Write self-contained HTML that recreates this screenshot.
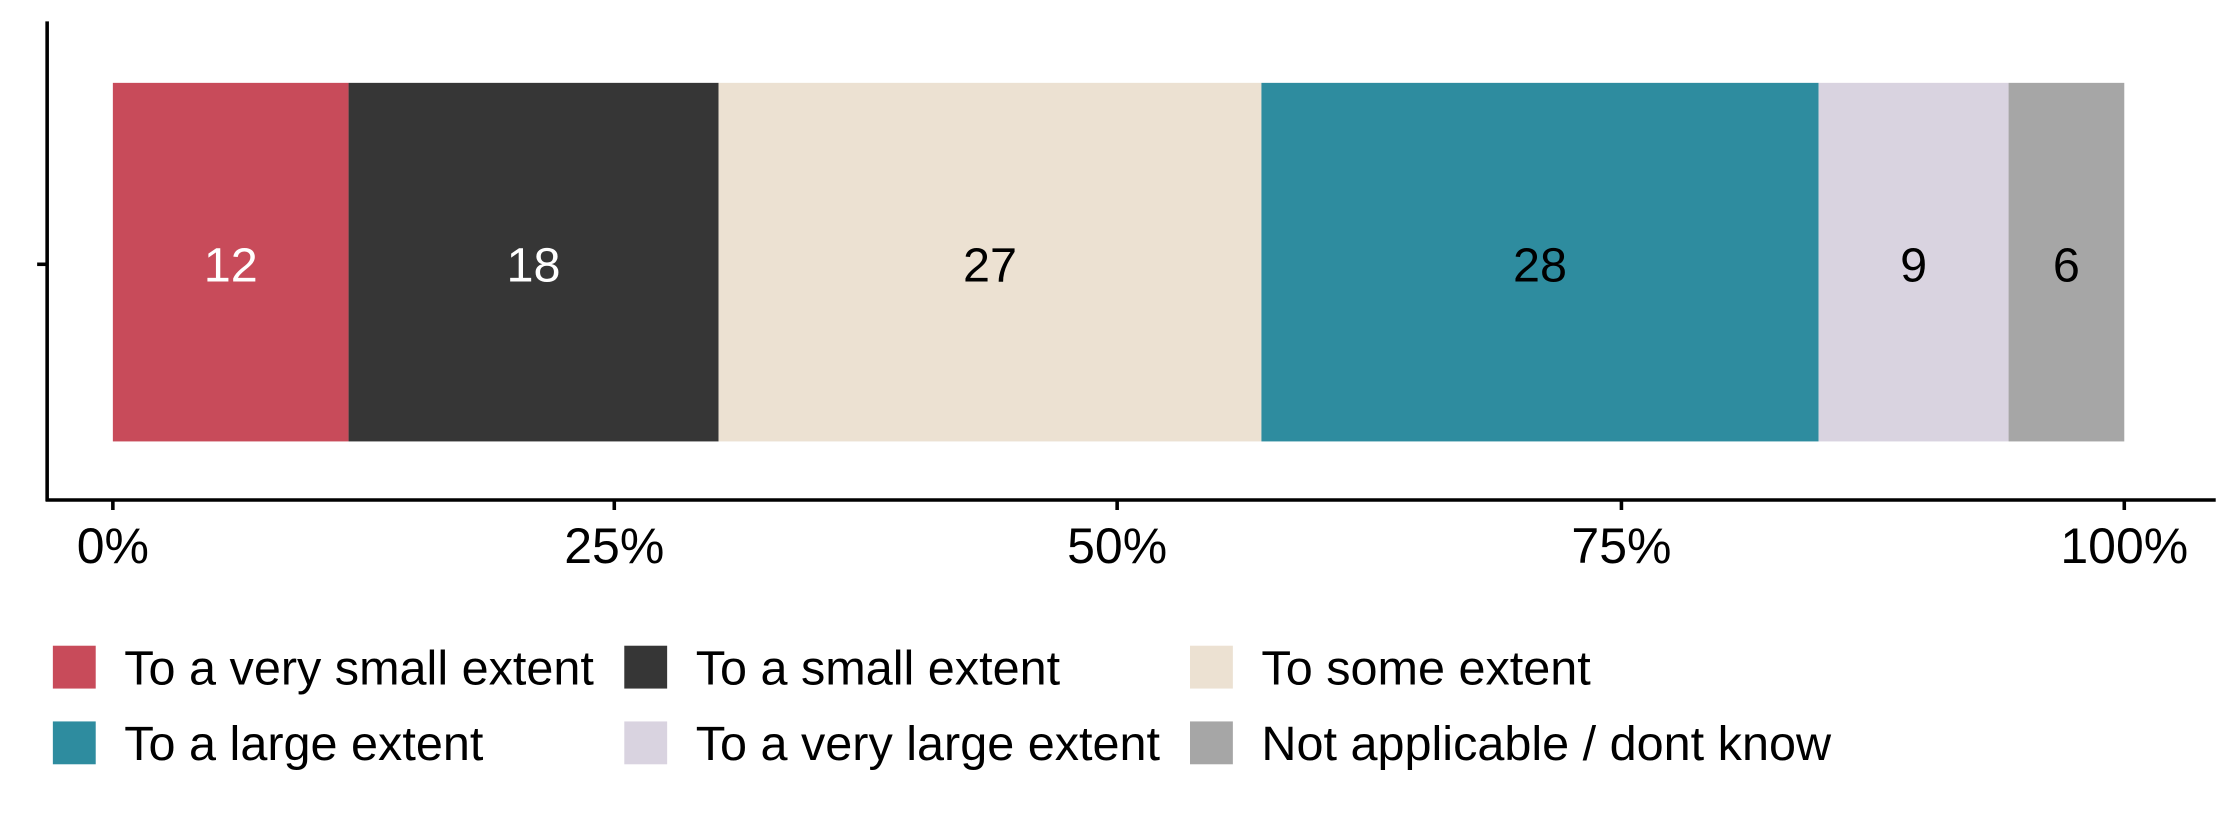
<!DOCTYPE html>
<html><head><meta charset="utf-8"><style>html,body{margin:0;padding:0;background:#fff}svg{display:block}</style></head>
<body>
<svg width="2240" height="816" viewBox="0 0 1568 571.2" xmlns="http://www.w3.org/2000/svg" font-family="Liberation Sans, Arial, sans-serif">
<rect width="1568" height="571.2" fill="#fff"/>
<rect x="79" y="58" width="165" height="251" fill="#C84B5A"/>
<rect x="244" y="58" width="259" height="251" fill="#363636"/>
<rect x="503" y="58" width="380" height="251" fill="#ECE1D2"/>
<rect x="883" y="58" width="390" height="251" fill="#2E8C9F"/>
<rect x="1273" y="58" width="133" height="251" fill="#D9D3E0"/>
<rect x="1406" y="58" width="81" height="251" fill="#A6A6A6"/>
<g font-size="34" text-anchor="middle">
<text x="161.5" y="197" fill="#fff">12</text>
<text x="373.5" y="197" fill="#fff">18</text>
<text x="693" y="197" fill="#000">27</text>
<text x="1078" y="197" fill="#000">28</text>
<text x="1339.5" y="197" fill="#000">9</text>
<text x="1446.5" y="197" fill="#000">6</text>
</g>
<g stroke="#000" stroke-width="2.5" fill="none">
<line x1="33" y1="15" x2="33" y2="351"/>
<line x1="32" y1="350" x2="1551" y2="350"/>
<line x1="26" y1="185" x2="33" y2="185"/>
<line x1="79" y1="350" x2="79" y2="357"/>
<line x1="430" y1="350" x2="430" y2="357"/>
<line x1="782" y1="350" x2="782" y2="357"/>
<line x1="1135" y1="350" x2="1135" y2="357"/>
<line x1="1487" y1="350" x2="1487" y2="357"/>
</g>
<g font-size="35" text-anchor="middle" fill="#000">
<text x="79" y="394">0%</text>
<text x="430" y="394">25%</text>
<text x="782" y="394">50%</text>
<text x="1135" y="394">75%</text>
<text x="1487" y="394">100%</text>
</g>
<rect x="37" y="452" width="30" height="30" fill="#C84B5A"/>
<rect x="437" y="452" width="30" height="30" fill="#363636"/>
<rect x="833" y="452" width="30" height="30" fill="#ECE1D2"/>
<rect x="37" y="505" width="30" height="30" fill="#2E8C9F"/>
<rect x="437" y="505" width="30" height="30" fill="#D9D3E0"/>
<rect x="833" y="505" width="30" height="30" fill="#A6A6A6"/>
<g font-size="34" fill="#000">
<text x="87" y="479">To a very small extent</text>
<text x="487" y="479">To a small extent</text>
<text x="883" y="479">To some extent</text>
<text x="87" y="532">To a large extent</text>
<text x="487" y="532">To a very large extent</text>
<text x="883" y="532">Not applicable / dont know</text>
</g>
</svg>
</body></html>
